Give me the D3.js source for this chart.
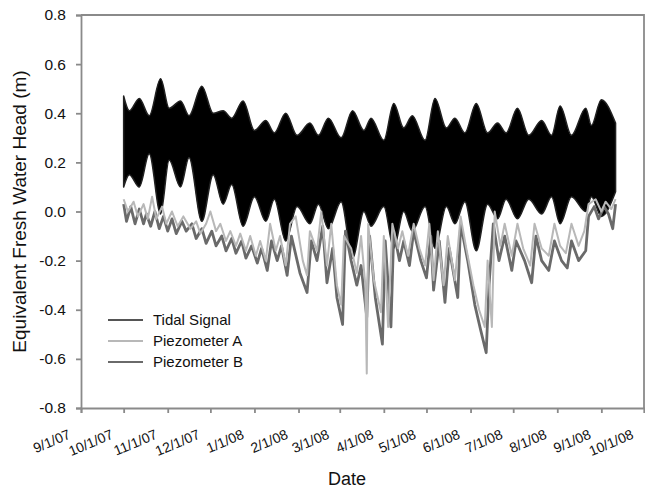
<!DOCTYPE html>
<meta charset="utf-8">
<style>
    body { margin: 0; background: #fff; }
    text { font-family: "Liberation Sans", Arial, sans-serif; fill: #111; }
</style>
<body>
<div id="chart"></div>
<script src="https://d3js.org/d3.v7.min.js"></script>
<script>
    // tidal signal: envelope of the dense semi-diurnal band (high / low water)
    var tidalDates = ['10/1/07', '10/5/07', '10/12/07', '10/19/07', '10/27/07', '11/2/07', '11/10/07', '11/16/07',
        '11/25/07', '12/3/07', '12/10/07', '12/16/07', '12/24/07', '1/1/08', '1/9/08', '1/15/08', '1/23/08',
        '1/31/08', '2/9/08', '2/15/08', '2/22/08', '3/2/08', '3/10/08', '3/18/08', '3/23/08', '4/1/08', '4/8/08',
        '4/15/08', '4/21/08', '4/30/08', '5/7/08', '5/15/08', '5/21/08', '5/28/08', '6/5/08', '6/13/08', '6/20/08',
        '6/26/08', '7/4/08', '7/12/08', '7/21/08', '7/28/08', '8/3/08', '8/11/08', '8/21/08', '8/25/08', '9/1/08',
        '9/11/08'];
    var tidalHigh = [0.47, 0.41, 0.46, 0.39, 0.54, 0.42, 0.45, 0.39, 0.51, 0.40, 0.41, 0.38, 0.45, 0.33, 0.37, 0.32,
        0.40, 0.31, 0.36, 0.31, 0.38, 0.30, 0.41, 0.33, 0.38, 0.29, 0.44, 0.34, 0.39, 0.29, 0.46, 0.34, 0.38, 0.32,
        0.44, 0.32, 0.36, 0.32, 0.42, 0.31, 0.37, 0.31, 0.43, 0.31, 0.42, 0.35, 0.455, 0.36];
    var tidalLow = [0.10, 0.15, 0.10, 0.235, -0.01, 0.21, 0.10, 0.22, -0.04, 0.15, 0.03, 0.11, -0.06, 0.06, -0.04,
        0.05, -0.12, 0.02, -0.05, 0.03, -0.07, 0.04, -0.19, 0.0, -0.06, 0.02, -0.15, 0.0, -0.08, 0.02, -0.15, 0.02,
        -0.05, 0.04, -0.16, 0.03, -0.03, 0.05, -0.03, 0.05, -0.01, 0.06, -0.05, 0.06, 0.0, 0.06, -0.02, 0.08];

    // piezometer A
    var pzaDates = ['10/1/07', '10/4/07', '10/8/07', '10/11/07', '10/15/07', '10/18/07', '10/21/07', '10/24/07',
        '10/28/07', '10/31/07', '11/4/07', '11/8/07', '11/12/07', '11/17/07', '11/21/07', '11/24/07', '11/28/07',
        '12/1/07', '12/5/07', '12/8/07', '12/12/07', '12/15/07', '12/19/07', '12/22/07', '12/26/07', '12/29/07',
        '1/2/08', '1/5/08', '1/9/08', '1/12/08', '1/16/08', '1/19/08', '1/23/08', '1/26/08', '1/30/08', '2/4/08',
        '2/7/08', '2/9/08', '2/14/08', '2/17/08', '2/21/08', '2/24/08', '2/28/08', '3/2/08', '3/4/08', '3/9/08',
        '3/13/08', '3/16/08', '3/19/08', '3/20/08', '3/21/08', '3/25/08', '3/30/08', '4/1/08', '4/4/08', '4/7/08',
        '4/11/08', '4/14/08', '4/18/08', '4/22/08', '4/26/08', '4/30/08', '5/3/08', '5/6/08', '5/9/08', '5/13/08',
        '5/16/08', '5/21/08', '5/25/08', '5/29/08', '6/3/08', '6/7/08', '6/11/08', '6/13/08', '6/16/08', '6/18/08',
        '6/22/08', '6/25/08', '6/30/08', '7/4/08', '7/8/08', '7/13/08', '7/16/08', '7/21/08', '7/26/08', '7/30/08',
        '8/3/08', '8/7/08', '8/11/08', '8/16/08', '8/20/08', '8/23/08', '8/28/08', '9/1/08', '9/4/08', '9/8/08',
        '9/11/08'];
    var pzaHead = [0.05, 0.0, 0.04, -0.02, 0.03, -0.03, 0.06, -0.03, 0.02, -0.05, 0.0, -0.06, -0.02, -0.07, -0.04,
        -0.09, -0.05, 0.0, -0.08, -0.05, -0.12, -0.08, -0.14, -0.09, -0.16, -0.10, -0.18, -0.12, -0.20, -0.05, -0.16,
        -0.10, -0.22, -0.05, -0.02, -0.20, -0.26, -0.08, -0.16, 0.0, -0.22, -0.05, -0.30, -0.38, -0.10, -0.15, -0.25,
        -0.10, -0.30, -0.66, -0.05, -0.28, -0.41, -0.10, -0.47, -0.05, -0.15, -0.08, -0.18, -0.05, -0.15, -0.22,
        -0.05, -0.28, -0.08, -0.30, -0.10, -0.28, -0.02, -0.15, -0.30, -0.40, -0.47, -0.20, -0.47, 0.0, -0.14, -0.05,
        -0.18, -0.05, -0.15, -0.22, -0.05, -0.15, -0.18, -0.05, -0.14, -0.17, -0.05, -0.14, -0.08, 0.03, 0.05, 0.0,
        0.04, 0.01, 0.05];

    // piezometer B
    var pzbDates = ['10/1/07', '10/3/07', '10/6/07', '10/9/07', '10/12/07', '10/15/07', '10/17/07', '10/20/07',
        '10/23/07', '10/26/07', '10/29/07', '11/1/07', '11/4/07', '11/7/07', '11/11/07', '11/14/07', '11/18/07',
        '11/21/07', '11/25/07', '11/28/07', '12/2/07', '12/5/07', '12/9/07', '12/12/07', '12/16/07', '12/19/07',
        '12/23/07', '12/26/07', '12/30/07', '1/3/08', '1/6/08', '1/10/08', '1/13/08', '1/17/08', '1/20/08', '1/24/08',
        '1/27/08', '2/2/08', '2/7/08', '2/10/08', '2/14/08', '2/18/08', '2/21/08', '2/25/08', '2/28/08', '3/3/08',
        '3/5/08', '3/9/08', '3/13/08', '3/16/08', '3/20/08', '3/22/08', '3/26/08', '3/31/08', '4/2/08', '4/6/08',
        '4/8/08', '4/12/08', '4/15/08', '4/19/08', '4/22/08', '4/27/08', '5/1/08', '5/4/08', '5/6/08', '5/10/08',
        '5/14/08', '5/17/08', '5/23/08', '5/25/08', '5/30/08', '6/4/08', '6/8/08', '6/12/08', '6/14/08', '6/17/08',
        '6/21/08', '6/25/08', '6/30/08', '7/3/08', '7/9/08', '7/14/08', '7/17/08', '7/21/08', '7/26/08', '7/30/08',
        '8/4/08', '8/8/08', '8/11/08', '8/16/08', '8/21/08', '8/23/08', '8/27/08', '8/30/08', '9/3/08', '9/6/08',
        '9/9/08', '9/11/08'];
    var pzbHead = [0.03, -0.04, 0.02, -0.05, 0.01, -0.05, -0.01, -0.06, 0.0, -0.07, -0.02, -0.08, -0.03, -0.09,
        -0.04, -0.08, -0.05, -0.11, -0.07, -0.13, -0.08, -0.14, -0.10, -0.16, -0.11, -0.17, -0.12, -0.19, -0.14,
        -0.21, -0.15, -0.24, -0.12, -0.20, -0.14, -0.26, -0.10, -0.25, -0.33, -0.12, -0.20, -0.06, -0.29, -0.15,
        -0.35, -0.46, -0.08, -0.20, -0.30, -0.22, -0.43, -0.10, -0.35, -0.54, -0.12, -0.47, -0.08, -0.20, -0.12,
        -0.22, -0.08, -0.20, -0.27, -0.10, -0.32, -0.12, -0.37, -0.15, -0.35, -0.05, -0.20, -0.38, -0.48, -0.575,
        -0.30, -0.05, -0.20, -0.10, -0.24, -0.12, -0.20, -0.29, -0.10, -0.20, -0.24, -0.12, -0.20, -0.23, -0.12,
        -0.20, -0.16, -0.02, 0.02, -0.03, 0.02, -0.01, -0.07, 0.03];

    var xTickLabels = ['9/1/07', '10/1/07', '11/1/07', '12/1/07', '1/1/08', '2/1/08', '3/1/08', '4/1/08',
        '5/1/08', '6/1/08', '7/1/08', '8/1/08', '9/1/08', '10/1/08'];
    var yTickLabels = ['-0.8', '-0.6', '-0.4', '-0.2', '0.0', '0.2', '0.4', '0.6', '0.8'];
    var seriesNames = ['Tidal Signal', 'Piezometer A', 'Piezometer B'];

    var width = 645,
        height = 490,
        margin = { top: 15, right: 1, bottom: 82, left: 81 },
        colors = { tidal: '#000', legendTidal: '#555', a: '#b8b8b8', b: '#6a6a6a' },
        axisColor = '#8a8a8a';

    var parseDate = d3.timeParse('%m/%d/%y');

    var svg = d3.select('#chart').append('svg')
        .attr('width', width)
        .attr('height', height);

    var xScale = d3.scaleTime()
        .domain([parseDate(xTickLabels[0]), parseDate(xTickLabels[xTickLabels.length - 1])])
        .range([margin.left, width - margin.right]);

    var yScale = d3.scaleLinear()
        .domain([+yTickLabels[0], +yTickLabels[yTickLabels.length - 1]])
        .range([height - margin.bottom, margin.top]);

    // tidal band
    var tidal = tidalDates.map(function(d, i) {
        return { date: parseDate(d), high: tidalHigh[i], low: tidalLow[i] };
    });

    svg.append('path')
        .datum(tidal)
        .attr('fill', colors.tidal)
        .attr('stroke', '#222')
        .attr('stroke-width', 1.5)
        .attr('stroke-linejoin', 'round')
        .attr('d', d3.area()
            .x(d => xScale(d.date))
            .y0(d => yScale(d.low))
            .y1(d => yScale(d.high))
            .curve(d3.curveMonotoneX));

    var line = d3.line()
        .x(d => xScale(d.date))
        .y(d => yScale(d.head));

    var pzb = pzbDates.map((d, i) => ({ date: parseDate(d), head: pzbHead[i] }));
    var pza = pzaDates.map((d, i) => ({ date: parseDate(d), head: pzaHead[i] }));

    svg.append('path')
        .datum(pzb)
        .attr('fill', 'none')
        .attr('stroke', colors.b)
        .attr('stroke-width', 2.8)
        .attr('stroke-linejoin', 'round')
        .attr('d', line);

    svg.append('path')
        .datum(pza)
        .attr('fill', 'none')
        .attr('stroke', colors.a)
        .attr('stroke-width', 2)
        .attr('stroke-linejoin', 'round')
        .attr('d', line);

    // frame (top and right)
    svg.append('path')
        .attr('fill', 'none')
        .attr('stroke', axisColor)
        .attr('stroke-width', 1.8)
        .attr('d', 'M' + margin.left + ',' + margin.top + 'H' + (width - margin.right) +
            'V' + (height - margin.bottom));

    // axes
    var yAxis = svg.append('g')
        .attr('transform', 'translate(' + margin.left + ',0)')
        .call(d3.axisLeft(yScale)
            .tickValues(yTickLabels.map(Number))
            .tickFormat((d, i) => yTickLabels[i])
            .tickSize(5)
            .tickPadding(10));

    var xAxis = svg.append('g')
        .attr('transform', 'translate(0,' + (height - margin.bottom) + ')')
        .call(d3.axisBottom(xScale)
            .tickValues(xTickLabels.map(parseDate))
            .tickFormat((d, i) => xTickLabels[i])
            .tickSize(5));

    svg.selectAll('.domain, .tick line')
        .attr('stroke', axisColor)
        .attr('stroke-width', 1.8);

    yAxis.selectAll('text')
        .style('font-size', '15.5px');

    xAxis.selectAll('text')
        .style('font-size', '14px')
        .attr('text-anchor', 'end')
        .attr('x', 0)
        .attr('y', 0)
        .attr('dy', 0)
        .attr('transform', 'translate(-10,30) rotate(-23)');

    // titles
    svg.append('text')
        .attr('transform', 'translate(26,' + yScale(0) + ') rotate(-90)')
        .attr('text-anchor', 'middle')
        .style('font-size', '19px')
        .text('Equivalent Fresh Water Head (m)');

    svg.append('text')
        .attr('x', 347)
        .attr('y', 485)
        .attr('text-anchor', 'middle')
        .style('font-size', '18px')
        .text('Date');

    // legend
    var legend = svg.append('g')
        .selectAll('g').data(seriesNames)
        .enter().append('g')
        .attr('transform', (d, i) => 'translate(108,' + (320 + i * 21) + ')');

    legend.append('line')
        .attr('x1', 0)
        .attr('x2', 35)
        .attr('stroke', (d, i) => [colors.legendTidal, colors.a, colors.b][i])
        .attr('stroke-width', 2);

    legend.append('text')
        .attr('x', 45)
        .attr('dy', '0.35em')
        .style('font-size', '15px')
        .text(d => d);
</script>
</body>
